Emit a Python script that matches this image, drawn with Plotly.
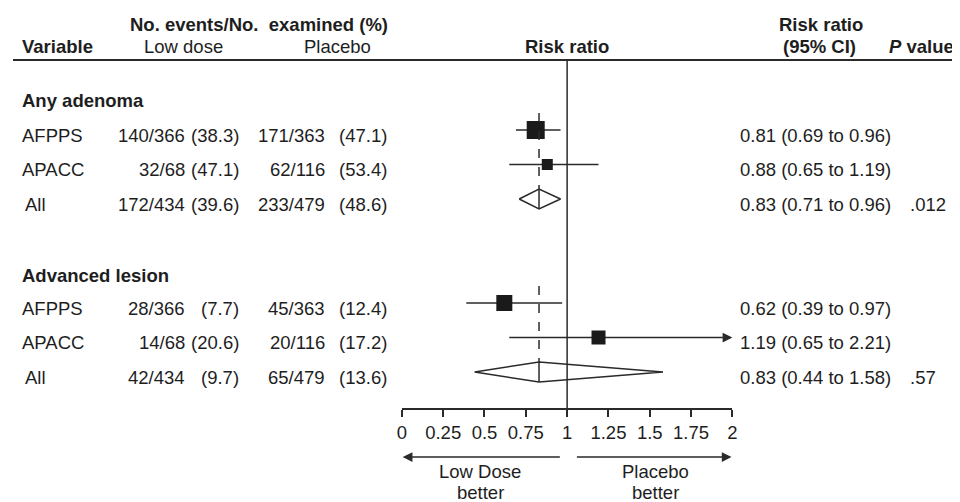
import plotly.graph_objects as go

# ---------------- data ----------------
groups = ["Any adenoma", "Advanced lesion"]
studies = ["AFPPS", "APACC", "All"]
low_events = [[140, 32, 172], [28, 14, 42]]
low_n = [[366, 68, 434], [366, 68, 434]]
low_pct = [[38.3, 47.1, 39.6], [7.7, 20.6, 9.7]]
pl_events = [[171, 62, 233], [45, 20, 65]]
pl_n = [[363, 116, 479], [363, 116, 479]]
pl_pct = [[47.1, 53.4, 48.6], [12.4, 17.2, 13.6]]
rr = [[0.81, 0.88, 0.83], [0.62, 1.19, 0.83]]
rr_lo = [[0.69, 0.65, 0.71], [0.39, 0.65, 0.44]]
rr_hi = [[0.96, 1.19, 0.96], [0.97, 2.21, 1.58]]
p_values = [".012", ".57"]
tick_vals = [0, 0.25, 0.5, 0.75, 1, 1.25, 1.5, 1.75, 2]
tick_text = ["0", "0.25", "0.5", "0.75", "1", "1.25", "1.5", "1.75", "2"]
direction_labels = [["Low Dose", "better"], ["Placebo", "better"]]

# ---------------- style / layout ----------------
VIEW_W, VIEW_H = 960, 502
OFF = 8                         # page body margin
W, H = VIEW_W - OFF, VIEW_H - OFF
FONT = "Liberation Sans, Arial, Helvetica, sans-serif"
FS = 18.5
TXT = "#1e1e1e"
LINE = "#2a2a2a"
XMIN, XMAX = 0, 2
AX_L, AX_R = 401, 735          # screen x of 0 and 2
AX_Y = 408                     # screen y of x axis line
PPU = (AX_R - AX_L) / (XMAX - XMIN)   # pixels per unit
marker_sizes = [[18, 11], [16, 14]]
group_first_row = [130, 303]
row_step = 34.5
head_offset = [30, 28]
text_dy = 5
diamond_half = 10

fig = go.Figure()
annos = []
shapes = []


def px(x):
    return (x - OFF) / W


def py_paper(y):
    return (AX_Y - y) / (AX_Y - OFF)


def text(x, y, s, anchor="left", bold=False, size=FS):
    annos.append(dict(x=px(x), y=y, xref="paper", yref="y", text=f"<b>{s}</b>" if bold else s,
                      showarrow=False, xanchor=anchor, yanchor="middle",
                      font=dict(family=FONT, size=size, color=TXT)))


# header
text(257, 24, "No. events/No.  examined (%)", "center", bold=True)
text(15, 46, "Variable", "left", bold=True)
text(180, 46, "Low dose", "center")
text(336, 46, "Placebo", "center")
text(568, 46, "Risk ratio", "center", bold=True)
text(825, 24, "Risk ratio", "center", bold=True)
text(823, 46, "(95% CI)", "center", bold=True)
text(891, 46, "<i>P</i> value", "left", bold=True)
shapes.append(dict(type="line", xref="paper", yref="y", x0=0, x1=1, y0=60, y1=60,
                   line=dict(color=LINE, width=2)))

# reference line at 1
shapes.append(dict(type="line", xref="x", yref="y", x0=1, x1=1, y0=60, y1=AX_Y,
                   line=dict(color=LINE, width=1.5)))

for g, gname in enumerate(groups):
    y0 = group_first_row[g]
    text(15, y0 - head_offset[g], gname, "left", bold=True)
    ys = [y0 + i * row_step for i in range(len(studies))]
    for i, st in enumerate(studies):
        y = ys[i] + text_dy
        text(15 if st != "All" else 18, y, st, "left")
        text(184, y, f"{low_events[g][i]}/{low_n[g][i]}", "right")
        text(238, y, f"({low_pct[g][i]})", "right")
        text(325, y, f"{pl_events[g][i]}/{pl_n[g][i]}", "right")
        text(388, y, f"({pl_pct[g][i]})", "right")
        text(741, y, f"{rr[g][i]:.2f} ({rr_lo[g][i]:.2f} to {rr_hi[g][i]:.2f})", "left")
        if st == "All":
            text(912, y, p_values[g], "left")

    # dashed line at pooled estimate
    pooled = rr[g][2]
    shapes.append(dict(type="line", xref="x", yref="y", x0=pooled, x1=pooled,
                       y0=ys[0] - 17, y1=ys[2] - diamond_half,
                       line=dict(color=LINE, width=1.5, dash="dash")))

    # individual studies
    for i in range(2):
        y = ys[i]
        hi = min(rr_hi[g][i], XMAX)
        if rr_hi[g][i] > XMAX:
            fig.add_trace(go.Scatter(x=[rr_lo[g][i], hi - 0.06], y=[y, y], mode="lines",
                                     line=dict(color=LINE, width=1.5), showlegend=False,
                                     hoverinfo="skip"))
            annos.append(dict(x=hi, y=y, ax=hi - 0.07, ay=y, xref="x", yref="y", axref="x",
                              ayref="y", showarrow=True, arrowhead=2, arrowsize=1.3,
                              arrowwidth=1.5, arrowcolor=LINE, text=""))
        else:
            fig.add_trace(go.Scatter(x=[rr_lo[g][i], hi], y=[y, y], mode="lines",
                                     line=dict(color=LINE, width=1.5), showlegend=False,
                                     hoverinfo="skip"))
        fig.add_trace(go.Scatter(x=[rr[g][i]], y=[y], mode="markers",
                                 marker=dict(symbol="square", size=marker_sizes[g][i],
                                             color="#1a1a1a", line=dict(width=0)),
                                 showlegend=False, hoverinfo="skip"))

    # pooled diamond
    y = ys[2]
    fig.add_trace(go.Scatter(x=[rr_lo[g][2], pooled, rr_hi[g][2], pooled, rr_lo[g][2]],
                             y=[y, y - diamond_half, y, y + diamond_half, y],
                             mode="lines", fill="toself", fillcolor="white",
                             line=dict(color=LINE, width=1.5), showlegend=False,
                             hoverinfo="skip"))
    shapes.append(dict(type="line", xref="x", yref="y", x0=pooled, x1=pooled,
                       y0=y - diamond_half, y1=y + diamond_half,
                       line=dict(color=LINE, width=1.5)))

# bottom direction arrows and labels (below the axis -> paper y)
ARROW_Y = py_paper(457)
for tip, tail in [(0.005, 0.955), (1.995, 1.06)]:
    annos.append(dict(x=tip, y=ARROW_Y, xref="x", yref="paper",
                      ax=(tail - tip) * PPU, ay=0, axref="pixel", ayref="pixel",
                      showarrow=True, arrowhead=2, arrowsize=1.3, arrowwidth=1.5,
                      arrowcolor=LINE, text=""))
for xc, lines in zip([0.473, 1.533], direction_labels):
    for yy, s in zip([472, 493], lines):
        annos.append(dict(x=xc, y=py_paper(yy), xref="x", yref="paper", text=s,
                          showarrow=False, xanchor="center", yanchor="middle",
                          borderpad=0,
                          font=dict(family=FONT, size=FS, color=TXT)))

fig.update_layout(
    width=W, height=H,
    margin=dict(l=0, r=0, t=0, b=VIEW_H - AX_Y),
    paper_bgcolor="white", plot_bgcolor="white",
    showlegend=False,
    xaxis=dict(domain=[px(AX_L), px(AX_R)], range=[XMIN, XMAX], showgrid=False,
               zeroline=False, showline=True, linecolor=LINE, linewidth=1.5,
               ticks="outside", ticklen=7, tickwidth=1.5, tickcolor=LINE,
               tickvals=tick_vals, ticktext=tick_text, ticklabelstandoff=0,
               tickfont=dict(family=FONT, size=FS, color=TXT), fixedrange=True),
    yaxis=dict(domain=[0, 1], range=[AX_Y, OFF], visible=False, fixedrange=True),
    annotations=annos, shapes=shapes,
)
fig.write_html("out.html")
